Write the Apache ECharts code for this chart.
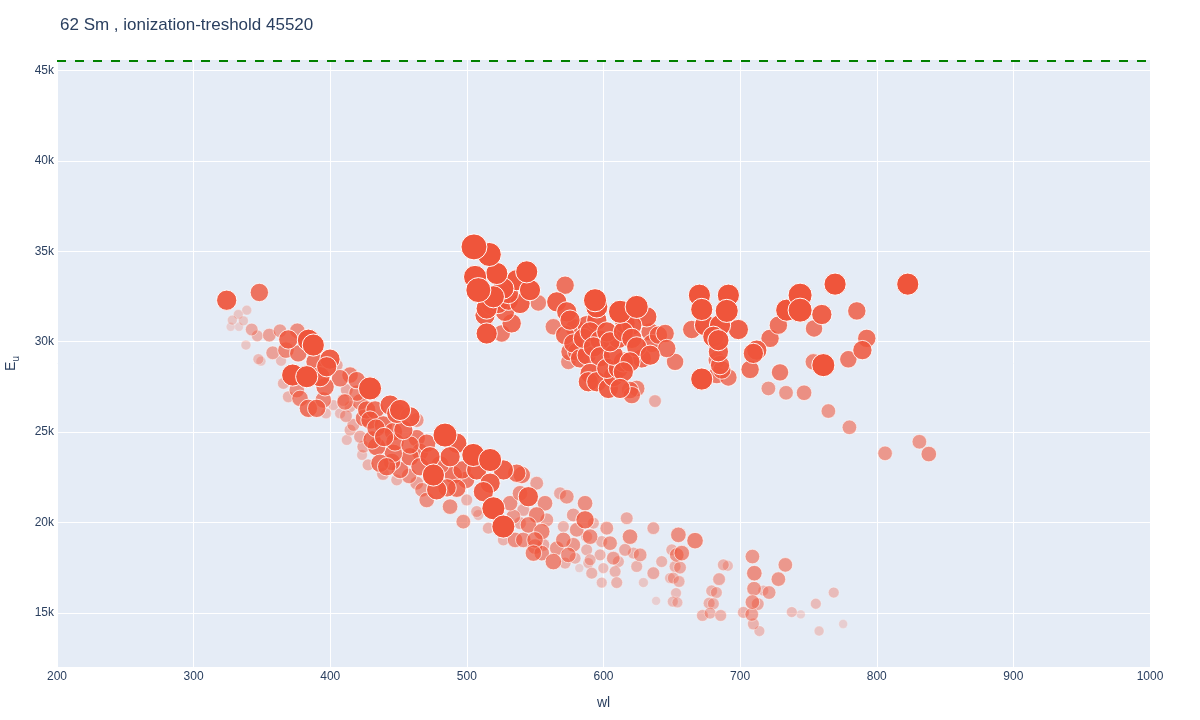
<!DOCTYPE html>
<html><head><meta charset="utf-8">
<script src="https://cdn.jsdelivr.net/npm/echarts@6/dist/echarts.min.js"></script>
<style>html,body{margin:0;padding:0;background:#fff}#c{width:1200px;height:720px}</style>
</head><body><div id="c"></div>
<script>
// ---- data: [wl, E_u, relative line strength 0..1] ----
const titleText = '62 Sm , ionization-treshold 45520';
const threshold = 45520;
const yTickValues = [15000, 20000, 25000, 30000, 35000, 40000, 45000];

const leftBand = [
[324.2,32290,.7],[348.1,32720,.6],[338.9,31740,.15],[332.7,31500,.15],[328.3,31190,.15],[336.4,31150,.15],[327.1,30820,.1],[333.2,30820,.1],[342.5,30670,.3],[346.6,30320,.25],[338.3,29810,.15],[355.4,30360,.35],[363.2,30600,.35],[357.9,29380,.35],[347.4,29030,.2],[349.3,28920,.15],[364,28940,.2],[369.3,30120,.65],[375.9,30600,.45],[384,30080,.8],[387.6,29810,.8],[367.6,29530,.5],[376.6,29350,.55],[372.5,28150,.8],[382.8,28060,.8],[388.9,28880,.6],[399.8,29030,.7],[404.7,28700,.3],[392.5,28060,.7],[396.2,27500,.6],[365.7,27690,.25],[369.3,26950,.25],[375.5,27320,.45],[377.9,26860,.5],[384,26310,.6],[390.1,26310,.6],[394.9,26770,.5],[407.2,26030,.2],[396.9,26030,.2],[412.1,27320,.3],[409.6,26770,.3],[414.5,26400,.25],[429.1,27410,.85],[407.2,27970,.55],[414.5,28150,.5],[419.4,27870,.55],[443.8,26490,.7],[448.7,26030,.7],[426.7,26220,.6],[432.8,26220,.6]
];

const midBand = [
[397.4,28610,.7],[451.1,26220,.75],[458.4,25840,.7],[463.3,25660,.4],[429.1,25660,.6],[438.9,25390,.6],[446.2,25020,.6],[453.5,25110,.65],[463.3,24650,.55],[470.6,24380,.6],[484,24830,.9],[492.6,24380,.7],[487.7,23630,.7],[473,23630,.7],[458.4,23630,.6],[446.2,23820,.6],[434,24190,.6],[424.2,24190,.3],[421.8,24740,.3],[416.9,25390,.3],[412.1,24560,.2],[402.3,26490,.2],[436.4,23270,.6],[441.3,23080,.6],[451.1,22900,.55],[465.7,23080,.6],[475.5,22620,.8],[490.1,22620,.6],[504.7,23730,.85],[517,23450,.85],[526.7,22900,.7],[536.5,22720,.6],[507.2,22900,.7],[517,22170,.7],[512.1,21700,.7],[492.6,21890,.6],[477.9,21800,.7],[463.3,22170,.35],[448.7,22350,.25],[470.6,21240,.45],[487.7,20870,.45],[499.9,21240,.25],[507.2,20600,.25],[519.4,20780,.85],[531.6,21060,.45],[538.9,21610,.45],[534,20320,.4],
[439.4,24720,.65],[430.6,24560,.6],[447.4,24450,.6],[458.4,24280,.6],[445.2,23340,.55],[465.7,23890,.55],[480.4,23180,.6],[496.5,22900,.6],[499.4,22350,.55],[485.5,21910,.6],[424.7,25770,.55],[433.5,25220,.6],[421.8,26660,.5],[411.5,25880,.3],[414.5,25110,.25],[423.3,23730,.2],[427.7,23180,.25],[438.6,22680,.3],[457.7,22570,.45],[467.2,21800,.4],[419.6,27150,.5],[410.8,26660,.5]
];

const lowerTail = [
[508.4,20410,.2],[497.4,20040,.4],[545,21420,.7],[540.2,22620,.55],[551.1,22170,.35],[541.3,20690,.3],[557.2,21060,.45],[551.1,20410,.5],[558.5,20140,.35],[545,19860,.5],[554.8,19490,.5],[538.9,19960,.3],[526.7,19770,.85],[515.7,19680,.25],[535.3,19030,.45],[526.7,19030,.25],[541.3,19030,.45],[549.9,19030,.5],[549.9,18660,.45],[556,18760,.3],[548.7,18300,.5],[554.8,18300,.45],[563.3,17830,.5],[565.8,18570,.4],[570.6,19030,.45],[571.9,17750,.25],[574.3,18200,.45],[579.2,18020,.25],[577.9,18760,.4],[570.6,19770,.25],[580.4,19590,.4],[586.5,20140,.6],[592.6,19960,.25],[586.5,21060,.45],[577.9,20410,.35],[568.2,21610,.3],[573.1,21420,.4],[587.7,19210,.25],[590.2,19210,.45],[598.7,18940,.25],[597.5,18200,.25],[602.4,19680,.35],[604.8,18850,.4],[587.7,18480,.25],[590.2,17930,.25],[588.9,17750,.2],[582.3,17470,.1],[591.4,17190,.25],[599.9,17470,.2],[607.2,18020,.35],[610.9,17830,.25],[608.5,17280,.25],[609.7,16670,.25],[598.7,16670,.2],[615.8,18480,.3],[621.9,18300,.25],[626.8,18200,.35],[617,20230,.3],[619.4,19210,.45],[624.3,17560,.25],[636.5,17190,.3],[636.5,19680,.3],[629.2,16670,.15],[642.6,17830,.25],[650,18480,.25],[652.4,17560,.25],[653.6,18200,.4],[654.8,19310,.45],[651.1,16920,.25],[648.7,16920,.2],[653.1,16090,.2]
];

const farTail = [
[667,18990,.5],[657.3,18300,.45],[656,17500,.3],[655.3,16730,.25],[650.7,15620,.2],[654.1,15570,.2],[638.5,15660,.1],[687.7,17650,.25],[691,17600,.2],[684.6,16860,.3],[679.2,16210,.25],[682.6,16120,.25],[677.3,15530,.25],[680.4,15500,.25],[672.4,14850,.25],[678,14980,.25],[685.8,14850,.25],[709,18110,.4],[710.4,17190,.45],[710.2,16330,.4],[717,16230,.2],[721.2,16120,.35],[728,16860,.4],[733.1,17650,.4],[709,15590,.4],[712.9,15480,.3],[702.4,15020,.25],[708.5,14910,.35],[709.7,14380,.25],[714.1,13990,.2],[737.8,15040,.2],[744.4,14910,.1],[755.4,15500,.2],[757.8,13990,.15],[768.5,16120,.2],[775.4,14380,.1]
];

const upperA = [
[505.2,35240,1],[516.4,34820,.9],[506,33580,.85],[508.4,32850,.95],[521.9,33770,.8],[543.8,33860,.8],[536.5,33400,.75],[546.2,32850,.75],[526.7,32940,.75],[519.4,32480,.8],[514.5,31830,.75],[513.3,31460,.7],[514.5,30450,.75],[525.5,30450,.55],[532.8,31010,.65],[518.2,32020,.7],[523,32110,.7],[530.4,32290,.7],[538.9,32110,.7],[530.4,32660,.7],[552.3,32140,.5],[527.9,31650,.65]
];

const upperB = [
[571.9,33120,.6],[565.8,32200,.7],[563.3,30820,.5],[573.1,31650,.7],[575.5,31190,.7],[579.2,30730,.65],[571.9,30360,.65],[577.9,29900,.65],[574.3,28880,.45],[582.8,29070,.65],[575.5,29440,.6],[580.4,29440,.6],[587.7,29250,.65],[585.3,30180,.7],[587.7,30910,.65],[593.8,32290,.85],[595.1,31920,.8],[595.1,31190,.7],[590.2,30540,.7],[597.5,30080,.7],[592.6,29710,.7],[597.5,29160,.7],[590.2,28240,.7],[588.9,27780,.7],[595.1,27780,.7],[603.6,27410,.7],[607.2,28060,.7],[602.4,28520,.7],[610.9,28520,.7],[614.5,28880,.7],[607.2,29250,.7],[610.9,30180,.7],[602.4,30540,.7],[604.8,29990,.7],[612.1,31650,.85],[615.8,31010,.7],[624.3,31920,.85],[631.7,31370,.7],[620.7,30910,.7],[614.5,30540,.7],[620.7,30180,.7],[624.3,29710,.7],[634.1,30540,.6],[635.3,29900,.6],[634.1,29250,.7],[640.2,30360,.6],[645.1,30450,.6],[646.3,29620,.6],[628,29070,.65],[619.4,28880,.7],[614.5,28330,.7],[612.1,27410,.7],[619.4,27320,.55],[624.3,27410,.5],[620.7,27040,.55],[637.7,26710,.3],[652.4,28880,.55]
];

const upperC = [
[670.2,32570,.8],[691.4,32570,.8],[671.9,31780,.8],[690.2,31700,.85],[674.3,30910,.75],[685.3,30910,.75],[664.6,30670,.6],[698.7,30670,.7],[680.4,30270,.75],[684.1,30080,.75],[684.1,29440,.7],[682.9,28980,.55],[685.3,28700,.65],[686.6,28430,.6],[682.9,28150,.55],[691.4,28020,.55],[671.9,27930,.8],[707.3,28460,.6],[712.2,29530,.7],[709.7,29350,.7],[721.9,30180,.6],[728,30910,.6],[734.1,31740,.8],[743.9,32570,.9],[743.9,31740,.9],[759.8,31500,.7],[754.1,30730,.55],[769.5,33180,.8],[785.4,31700,.6],[792.7,30180,.6],[789.5,29530,.65],[779.2,29020,.55],[760.9,28700,.85],[753.6,28880,.5],[729.2,28300,.55],[720.7,27410,.4],[733.6,27170,.4],[746.8,27170,.45],[764.6,26160,.4],[780,25260,.4],[806.1,23820,.4],[831.2,24460,.4],[838.1,23780,.45],[822.7,33180,.8]
];

// ---- chart ----
const FONT = '"Liberation Sans", Arial, sans-serif';
const INK = '#2a3f5f';
const points = [].concat(leftBand, midBand, lowerTail, farTail, upperA, upperB, upperC)
  .slice().sort((a, b) => a[2] - b[2]);
const seriesData = points.map(p => ({
  value: p,
  symbolSize: 7 + 19 * p[2],
  itemStyle: { opacity: Math.min(1, 0.08 + 1.2 * p[2]) }
}));

const chart = echarts.init(document.getElementById('c'), null, { renderer: 'canvas' });
chart.setOption({
  animation: false,
  backgroundColor: '#ffffff',
  title: {
    text: titleText, left: 55, top: 12,
    textStyle: { fontFamily: FONT, fontSize: 17, fontWeight: 'normal', color: INK }
  },
  grid: { left: 57, right: 50, top: 60, bottom: 53, show: true, backgroundColor: '#E5ECF6',
          borderWidth: 0, containLabel: false, outerBoundsMode: 'none' },
  xAxis: {
    type: 'value', min: 200, max: 1000, interval: 100,
    name: 'wl', nameLocation: 'middle', nameGap: 29,
    nameTextStyle: { fontFamily: FONT, fontSize: 14, color: INK },
    axisLine: { show: false }, axisTick: { show: false },
    axisLabel: { fontFamily: FONT, fontSize: 12, color: INK, margin: 4, formatter: v => String(v) },
    splitLine: { show: true, lineStyle: { color: '#ffffff', width: 1 } }
  },
  yAxis: {
    type: 'value', min: 12000, max: 45580,
    name: '{e|E}{s|u}', nameLocation: 'middle', nameRotate: 90, nameGap: 36,
    nameTextStyle: {
      color: INK, fontFamily: FONT,
      rich: {
        e: { fontFamily: FONT, fontSize: 14, color: INK, lineHeight: 20, verticalAlign: 'middle' },
        s: { fontFamily: FONT, fontSize: 10, color: INK, lineHeight: 20, verticalAlign: 'bottom' }
      }
    },
    axisLine: { show: false },
    axisTick: { show: false, customValues: yTickValues },
    axisLabel: { fontFamily: FONT, fontSize: 12, color: INK, margin: 3,
      customValues: yTickValues, formatter: v => (v / 1000) + 'k' },
    splitLine: { show: true, lineStyle: { color: '#ffffff', width: 1 } }
  },
  series: [{
    type: 'scatter',
    data: seriesData,
    itemStyle: { color: '#EF553B', borderColor: '#ffffff', borderWidth: 1 },
    emphasis: { disabled: true },
    markLine: {
      silent: true, symbol: 'none', animation: false,
      label: { show: false },
      lineStyle: { color: '#008000', width: 2, type: [9, 9] },
      data: [{ yAxis: threshold }]
    }
  }]
});
</script>
</body></html>
